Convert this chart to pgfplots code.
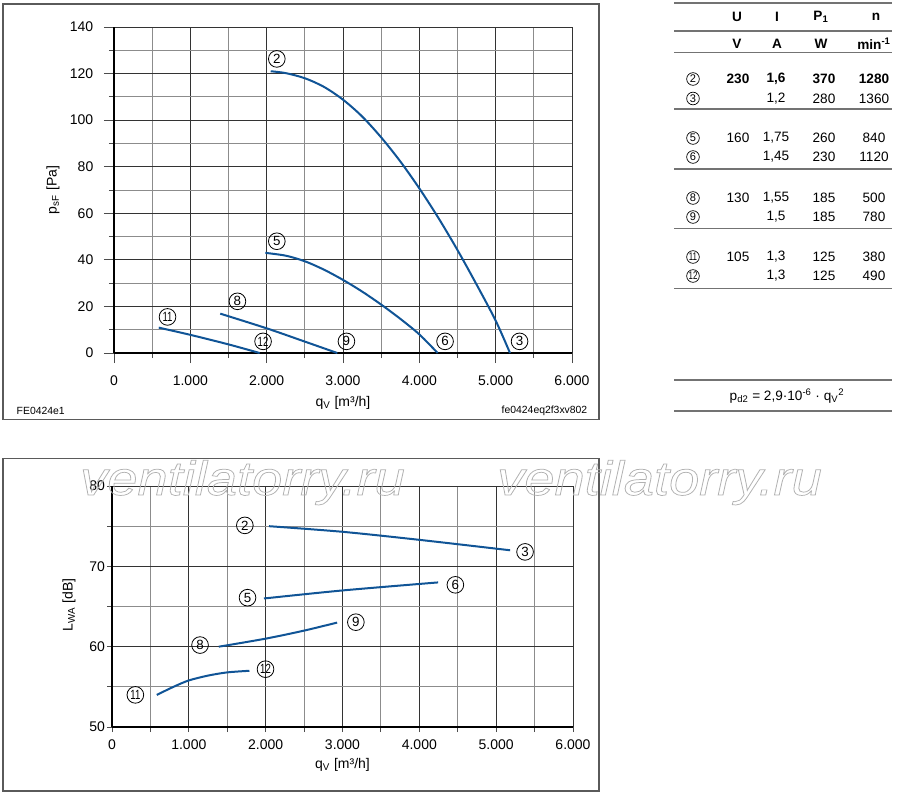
\documentclass[border=0pt]{standalone}
\usepackage{pgfplots}
\pgfplotsset{compat=1.18}
\usepackage{fontspec}
\setmainfont{Liberation Sans}
\usepackage{graphicx}
\definecolor{curve}{RGB}{16,84,150}
\definecolor{framec}{RGB}{90,90,90}
\newcommand\wm[1]{\special{pdf:literal direct 1 Tr 0.55 w 0.7 G}#1\special{pdf:literal direct 0 Tr 0 g 0 G}}
\tikzset{
  cn/.style={circle, draw, line width=0.6pt, inner sep=0pt, minimum size=12.5pt, font=\fontsize{10}{10}\selectfont},
  cs/.style={circle, draw, line width=0.5pt, inner sep=0pt, minimum size=9.5pt, font=\fontsize{8.3}{8.3}\selectfont},
}
\newcommand\nn[1]{\scalebox{0.72}[1]{#1}}
\newcommand\tf{\fontsize{10.2}{11}\selectfont}
\pgfplotsset{
  common/.style={
    scale only axis, anchor=south west,
    xmin=0, xmax=6000,
    xtick={0,1000,...,6000}, xticklabels={0,1.000,2.000,3.000,4.000,5.000,6.000},
    minor x tick num=1, minor y tick num=1,
    grid=both,
    major grid style={black!80, line width=0.75pt},
    minor grid style={black!45, line width=0.75pt},
    axis lines=left, axis line style={-, black, line width=1pt},
    tick align=outside, tick pos=left,
    tick style={black!70, line width=0.75pt},
    /pgf/number format/assume math mode=true,
    ticklabel style={font=\fontsize{10.5}{12}\selectfont},
    label style={font=\fontsize{10.5}{12}\selectfont},
    clip=false,
  },
  cv/.style={curve, line width=1.5pt, smooth, no marks},
}
\begin{document}
\begin{tikzpicture}
\path[use as bounding box] (0,0) rectangle (675pt,-597.75pt);
\begin{scope}[x=0.75pt,y=-0.75pt]
  \draw[framec, line width=1.1pt] (3,4) rectangle (599,419.5);
  \draw[framec, line width=1.1pt] (3,458.5) rectangle (599,791);
  \node[anchor=west, font=\fontsize{7.8}{9}\selectfont] at (12,411) {FE0424e1};
  \node[anchor=east, font=\fontsize{7.8}{9}\selectfont] at (592,411) {fe0424eq2f3xv802};
  % table
  \foreach \yy in {3,31,52.5,109,169,228.5,288.5,380,411}
    \draw[black!55, line width=0.8pt] (674,\yy) -- (892,\yy);
  \begin{scope}[every node/.style={font=\tf}]
    \node[font=\tf\bfseries] at (737,17) {U};
    \node[font=\tf\bfseries] at (777,17) {I};
    \node[font=\tf\bfseries] at (821,17) {P\textsubscript{1}};
    \node[font=\tf\bfseries] at (876,17) {n};
    \node[font=\tf\bfseries] at (737,44) {V};
    \node[font=\tf\bfseries] at (777,44) {A};
    \node[font=\tf\bfseries] at (821,44) {W};
    \node[font=\tf\bfseries] at (874,44) {min\textsuperscript{-1}};
    \node[cs] at (693,79) {2};
    \node[cs] at (693,98.5) {3};
    \node[cs] at (693,138) {5};
    \node[cs] at (693,157) {6};
    \node[cs] at (693,198) {8};
    \node[cs] at (693,217) {9};
    \node[cs] at (693,257) {\nn{11}};
    \node[cs] at (693,276) {\nn{12}};
    \node[font=\tf\bfseries] at (738,79) {230};
    \node[font=\tf\bfseries] at (776,79) {1,6};
    \node[font=\tf\bfseries] at (824,79) {370};
    \node[font=\tf\bfseries] at (874,79) {1280};
    \node at (776,98.5) {1,2}; \node at (824,98.5) {280}; \node at (874,98.5) {1360};
    \node at (738,138) {160}; \node at (776,138) {1,75}; \node at (824,138) {260}; \node at (874,138) {840};
    \node at (776,157) {1,45}; \node at (824,157) {230}; \node at (874,157) {1120};
    \node at (738,198) {130}; \node at (776,198) {1,55}; \node at (824,198) {185}; \node at (874,198) {500};
    \node at (776,217) {1,5}; \node at (824,217) {185}; \node at (874,217) {780};
    \node at (738,257) {105}; \node at (776,257) {1,3}; \node at (824,257) {125}; \node at (874,257) {380};
    \node at (776,276) {1,3}; \node at (824,276) {125}; \node at (874,276) {490};
    \node at (787,396) {p\textsubscript{d2} = 2,9·10\textsuperscript{-6} · q\textsubscript{V}\textsuperscript{2}};
  \end{scope}
\end{scope}

% top chart
\begin{axis}[common,
  at={(85.5pt,-264.75pt)}, width=343.5pt, height=244.5pt,
  ymin=0, ymax=140, ytick={0,20,...,140},
  major tick length=7.5pt, minor tick length=3.75pt,
  xticklabel style={yshift=-6pt}, yticklabel style={xshift=-4.5pt},
  xlabel={q\textsubscript{V} [m³/h]}, ylabel={p\textsubscript{sF} [Pa]},
  xlabel style={at={(axis description cs:0.5,-0.153)}, anchor=center},
  ylabel style={at={(axis description cs:-0.133,0.5)}, anchor=center},
]
\addplot[cv] coordinates {(2053,121) (2250,120.2) (2500,118) (2750,114.3) (3000,108.8) (3250,101.6) (3500,92.6) (3750,82.3) (4000,70.7) (4250,58.0) (4500,44.2) (4750,29.4) (5000,13.9) (5188,0)};
\addplot[cv] coordinates {(1983,43) (2250,41.8) (2500,39.4) (2750,35.8) (3000,31.4) (3250,26.4) (3500,20.8) (3750,14.7) (4000,8.0) (4240,0)};
\addplot[cv] coordinates {(1392,16.9) (2000,10.6) (2500,4.9) (2925,0)};
\addplot[cv] coordinates {(586,10.9) (1000,7.8) (1500,3.7) (1908,0)};
\node[cn] at (axis cs:2133,126.3) {2};
\node[cn] at (axis cs:2133,48) {5};
\node[cn] at (axis cs:1617,22.2) {8};
\node[cn] at (axis cs:701,15.5) {\nn{11}};
\node[cn] at (axis cs:1953,5) {\nn{12}};
\node[cn] at (axis cs:3045,5) {9};
\node[cn] at (axis cs:4337,5) {6};
\node[cn] at (axis cs:5313,5) {3};
\end{axis}

% bottom chart
\begin{axis}[common,
  at={(84pt,-545.25pt)}, width=345.75pt, height=180.75pt,
  ymin=50, ymax=80, ytick={50,60,70,80},
  major tick length=3.75pt, minor tick length=3.75pt,
  xticklabel style={yshift=-2.25pt}, yticklabel style={xshift=2pt},
  xlabel={q\textsubscript{V} [m³/h]}, ylabel={L\textsubscript{WA} [dB]},
  xlabel style={at={(axis description cs:0.5,-0.158)}, anchor=center},
  ylabel style={at={(axis description cs:-0.093,0.506)}, anchor=center},
]
\addplot[cv] coordinates {(2043,75) (3000,74.3) (4000,73.3) (5182,72)};
\addplot[cv] coordinates {(1978,66) (3000,67) (4245,68)};
\addplot[cv] coordinates {(1390,60) (2000,61) (2500,62) (2930,63)};
\addplot[cv] coordinates {(583,54) (800,55) (1000,55.8) (1250,56.4) (1500,56.8) (1789,57)};
\node[cn] at (axis cs:1729,75.1) {2};
\node[cn] at (axis cs:5376,71.8) {3};
\node[cn] at (axis cs:4469,67.7) {6};
\node[cn] at (axis cs:1764,66.1) {5};
\node[cn] at (axis cs:3174,63.05) {9};
\node[cn] at (axis cs:1146,60.2) {8};
\node[cn] at (axis cs:1998,57.2) {\nn{12}};
\node[cn] at (axis cs:304,54) {\nn{11}};
\end{axis}

% watermark
\begin{scope}[x=0.75pt,y=-0.75pt]
  \node[anchor=base west, inner sep=0pt, font=\fontsize{36}{40}\itshape] at (80,495) {\wm{\scalebox{1.13}[1]{ventilatorry.ru}}};
  \node[anchor=base west, inner sep=0pt, font=\fontsize{36}{40}\itshape] at (497,495) {\wm{\scalebox{1.13}[1]{ventilatorry.ru}}};
\end{scope}
\end{tikzpicture}
\end{document}
